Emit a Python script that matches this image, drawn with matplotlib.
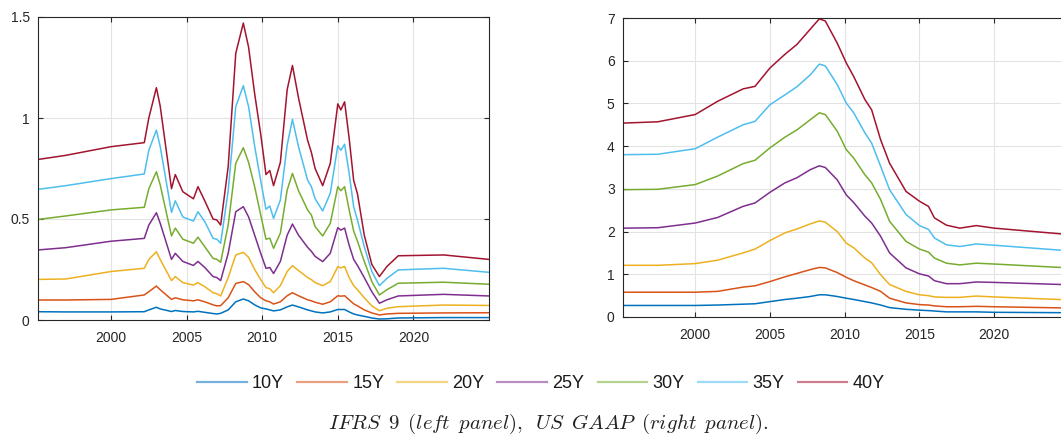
import matplotlib
matplotlib.use("Agg")
import matplotlib.pyplot as plt
import numpy as np

plt.rcParams['font.family'] = ['Liberation Sans', 'DejaVu Sans']
plt.rcParams['mathtext.fontset'] = 'cm'

labels = ['10Y', '15Y', '20Y', '25Y', '30Y', '35Y', '40Y']
colors = ['#0072BD', '#D95319', '#EDB120', '#7E2F8E', '#77AC30', '#4DBEEE', '#A2142F']

# left panel (IFRS 9)
t_ifrs = [1995.2, 1997.0, 2000.0, 2002.2, 2002.5, 2003.0, 2003.25, 2004.0, 2004.25, 2004.75,
          2005.45, 2005.75, 2006.2, 2006.75, 2007.0, 2007.25, 2007.75, 2008.25, 2008.75, 2009.1,
          2009.5, 2009.9, 2010.25, 2010.5, 2010.75, 2011.2, 2011.65, 2012.0, 2012.4, 2013.0,
          2013.25, 2013.5, 2014.0, 2014.5, 2015.0, 2015.2, 2015.45, 2015.75, 2016.05, 2016.3,
          2016.75, 2017.25, 2017.75, 2018.25, 2019.0, 2022.0, 2025.0]
ifrs_10 = [0.041, 0.040, 0.040, 0.041, 0.050, 0.063, 0.055, 0.042, 0.047, 0.042,
           0.040, 0.043, 0.038, 0.032, 0.030, 0.033, 0.050, 0.090, 0.104, 0.095,
           0.075, 0.060, 0.055, 0.050, 0.045, 0.050, 0.065, 0.074, 0.065, 0.050,
           0.045, 0.040, 0.035, 0.040, 0.052, 0.052, 0.052, 0.040, 0.030, 0.025,
           0.018, 0.010, 0.005, 0.006, 0.010, 0.012, 0.012]
ifrs_15 = [0.099, 0.099, 0.102, 0.124, 0.140, 0.168, 0.150, 0.102, 0.110, 0.100,
           0.095, 0.100, 0.090, 0.075, 0.070, 0.071, 0.110, 0.181, 0.190, 0.175,
           0.140, 0.110, 0.095, 0.090, 0.079, 0.090, 0.120, 0.135, 0.120, 0.100,
           0.095, 0.088, 0.078, 0.090, 0.120, 0.118, 0.120, 0.100, 0.080, 0.070,
           0.050, 0.035, 0.025, 0.030, 0.033, 0.035, 0.036]
ifrs_20 = [0.201, 0.203, 0.240, 0.256, 0.300, 0.338, 0.300, 0.195, 0.215, 0.185,
           0.173, 0.185, 0.165, 0.135, 0.130, 0.119, 0.210, 0.322, 0.335, 0.310,
           0.250, 0.200, 0.160, 0.155, 0.135, 0.170, 0.240, 0.269, 0.245, 0.210,
           0.200, 0.185, 0.170, 0.190, 0.264, 0.258, 0.265, 0.210, 0.170, 0.150,
           0.110, 0.070, 0.046, 0.058, 0.066, 0.074, 0.072]
ifrs_25 = [0.347, 0.358, 0.390, 0.404, 0.470, 0.531, 0.480, 0.300, 0.330, 0.290,
           0.270, 0.290, 0.260, 0.215, 0.210, 0.195, 0.330, 0.536, 0.561, 0.510,
           0.420, 0.330, 0.256, 0.260, 0.230, 0.290, 0.420, 0.475, 0.420, 0.360,
           0.340, 0.315, 0.289, 0.330, 0.457, 0.445, 0.455, 0.370, 0.300, 0.270,
           0.210, 0.140, 0.083, 0.100, 0.119, 0.127, 0.119]
ifrs_30 = [0.498, 0.515, 0.545, 0.558, 0.650, 0.734, 0.670, 0.416, 0.455, 0.400,
           0.380, 0.410, 0.363, 0.305, 0.300, 0.286, 0.470, 0.776, 0.853, 0.780,
           0.660, 0.520, 0.400, 0.405, 0.355, 0.430, 0.643, 0.726, 0.640, 0.545,
           0.520, 0.462, 0.416, 0.478, 0.660, 0.640, 0.660, 0.545, 0.440, 0.390,
           0.290, 0.190, 0.124, 0.150, 0.182, 0.187, 0.177]
ifrs_35 = [0.647, 0.665, 0.700, 0.723, 0.840, 0.940, 0.860, 0.533, 0.590, 0.510,
           0.490, 0.536, 0.487, 0.404, 0.400, 0.380, 0.640, 1.056, 1.160, 1.056,
           0.860, 0.690, 0.548, 0.564, 0.503, 0.594, 0.866, 0.993, 0.858, 0.693,
           0.660, 0.600, 0.540, 0.627, 0.863, 0.840, 0.870, 0.726, 0.560, 0.495,
           0.363, 0.240, 0.170, 0.206, 0.248, 0.256, 0.236]
ifrs_40 = [0.795, 0.815, 0.858, 0.878, 1.000, 1.150, 1.060, 0.650, 0.720, 0.635,
           0.600, 0.660, 0.590, 0.500, 0.495, 0.470, 0.760, 1.320, 1.470, 1.350,
           1.120, 0.920, 0.720, 0.740, 0.665, 0.780, 1.140, 1.260, 1.100, 0.890,
           0.830, 0.750, 0.665, 0.775, 1.070, 1.040, 1.080, 0.900, 0.690, 0.625,
           0.420, 0.275, 0.215, 0.265, 0.318, 0.322, 0.300]

# right panel (US GAAP)
t_gaap = [1995.2, 1997.5, 2000.0, 2001.5, 2003.2, 2004.0, 2005.0, 2006.0, 2006.8, 2007.7,
          2008.3, 2008.7, 2009.5, 2010.1, 2010.6, 2011.35, 2011.8, 2012.4, 2013.0, 2014.1,
          2015.0, 2015.6, 2016.0, 2016.8, 2017.7, 2018.8, 2020.0, 2025.0]
gaap_10 = [0.27, 0.27, 0.27, 0.28, 0.30, 0.31, 0.36, 0.41, 0.44, 0.48,
           0.52, 0.52, 0.48, 0.44, 0.41, 0.36, 0.33, 0.28, 0.22, 0.18,
           0.16, 0.15, 0.14, 0.12, 0.12, 0.12, 0.11, 0.10]
gaap_15 = [0.58, 0.58, 0.58, 0.60, 0.70, 0.73, 0.83, 0.94, 1.02, 1.11,
           1.16, 1.15, 1.04, 0.93, 0.85, 0.75, 0.69, 0.60, 0.44, 0.33,
           0.29, 0.28, 0.26, 0.24, 0.24, 0.25, 0.24, 0.21]
gaap_20 = [1.21, 1.21, 1.25, 1.33, 1.50, 1.59, 1.79, 1.97, 2.06, 2.18,
           2.25, 2.22, 2.00, 1.73, 1.62, 1.38, 1.27, 0.99, 0.76, 0.60,
           0.52, 0.50, 0.47, 0.46, 0.46, 0.49, 0.47, 0.40]
gaap_25 = [2.08, 2.09, 2.20, 2.33, 2.59, 2.67, 2.92, 3.14, 3.26, 3.45,
           3.54, 3.50, 3.21, 2.86, 2.68, 2.36, 2.20, 1.89, 1.50, 1.15,
           1.01, 0.96, 0.85, 0.78, 0.78, 0.82, 0.81, 0.755]
gaap_30 = [2.98, 2.99, 3.10, 3.30, 3.59, 3.67, 3.96, 4.21, 4.38, 4.62,
           4.78, 4.74, 4.35, 3.92, 3.72, 3.33, 3.14, 2.75, 2.24, 1.77,
           1.59, 1.52, 1.38, 1.26, 1.22, 1.26, 1.24, 1.15]
gaap_35 = [3.80, 3.81, 3.94, 4.21, 4.50, 4.58, 4.97, 5.20, 5.39, 5.67,
           5.92, 5.88, 5.44, 5.01, 4.78, 4.31, 4.07, 3.53, 2.98, 2.40,
           2.14, 2.05, 1.85, 1.69, 1.65, 1.71, 1.68, 1.55]
gaap_40 = [4.54, 4.57, 4.74, 5.05, 5.34, 5.40, 5.83, 6.15, 6.38, 6.74,
           6.98, 6.93, 6.41, 5.95, 5.63, 5.09, 4.85, 4.15, 3.60, 2.94,
           2.71, 2.59, 2.32, 2.15, 2.08, 2.14, 2.08, 1.93]

ifrs = [ifrs_10, ifrs_15, ifrs_20, ifrs_25, ifrs_30, ifrs_35, ifrs_40]
gaap = [gaap_10, gaap_15, gaap_20, gaap_25, gaap_30, gaap_35, gaap_40]

W, H = 1061, 438
fig = plt.figure(figsize=(W / 100, H / 100), dpi=100)
ax1 = fig.add_axes([38 / W, 1 - 320 / H, 451 / W, 303 / H])
ax2 = fig.add_axes([623 / W, 1 - 317 / H, 446 / W, 299 / H])

tick_col = '#262626'


def style_axes(ax, ylim, yticks):
    ax.set_xlim(1995.17, 2025.0)
    ax.set_ylim(*ylim)
    ax.set_xticks([2000, 2005, 2010, 2015, 2020])
    ax.set_yticks(yticks)
    ax.set_yticklabels(['%g' % v for v in yticks])
    ax.grid(True, color='#e3e3e3', linewidth=0.8)
    ax.set_axisbelow(True)
    ax.tick_params(direction='in', top=True, right=True, length=3.5, width=0.8,
                   colors=tick_col, labelsize=10, labelcolor=tick_col)
    ax.tick_params(axis='x', pad=8)
    ax.tick_params(axis='y', pad=6)
    for s in ax.spines.values():
        s.set_color(tick_col)
        s.set_linewidth(0.8)


for vals, c, lab in zip(ifrs, colors, labels):
    ax1.plot(t_ifrs, vals, color=c, lw=1.1, label=lab)
for vals, c, lab in zip(gaap, colors, labels):
    ax2.plot(t_gaap, vals, color=c, lw=1.1, label=lab)

style_axes(ax1, (0, 1.5), [0, 0.5, 1, 1.5])
style_axes(ax2, (0, 7), [0, 1, 2, 3, 4, 5, 6, 7])

handles, labs = ax1.get_legend_handles_labels()
leg = fig.legend(handles, labs, loc='center', bbox_to_anchor=(541 / W, 1 - 384 / H),
                 ncol=7, frameon=False, fontsize=13, handlelength=2.75, handletextpad=0.3,
                 columnspacing=0.72)
for ln in leg.get_lines():
    ln.set_linewidth(1.6)
    ln.set_alpha(0.55)
for tx in leg.get_texts():
    tx.set_color('#1a1a1a')

fig.text(548 / W, 1 - 424 / H,
         r'$\mathit{IFRS\ \,9\ \,(left\ \,panel),\ \,US\ \,GAAP\ \,(right\ \,panel).}$',
         ha='center', va='center', fontsize=15, color='#222222')

fig.savefig('out.png', dpi=100)
